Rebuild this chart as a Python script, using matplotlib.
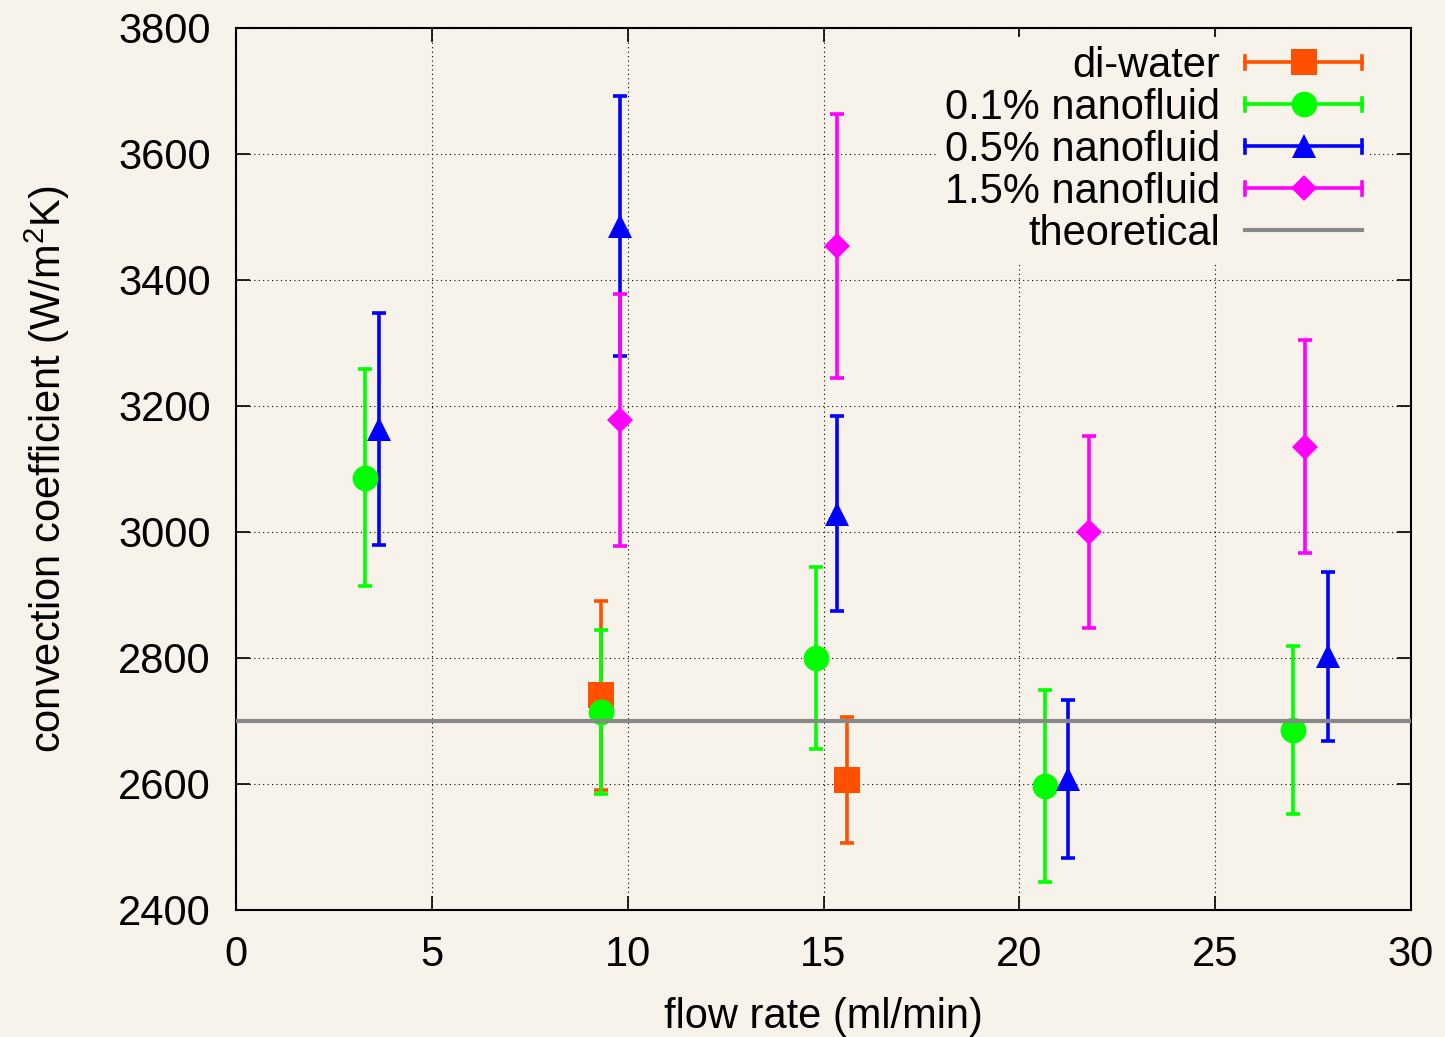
import matplotlib
matplotlib.use("Agg")
import matplotlib.pyplot as plt
from matplotlib.lines import Line2D
from matplotlib.legend_handler import HandlerBase

plt.rcParams['font.family'] = ['Liberation Sans', 'DejaVu Sans']
plt.rcParams['mathtext.fontset'] = 'custom'
plt.rcParams['mathtext.rm'] = 'Liberation Sans'
plt.rcParams['mathtext.it'] = 'Liberation Sans:italic'

# ---- data ----
water_x = [9.32, 15.6]
water_y = [2741, 2606]
water_e = [150, 100]

nf01_x = [3.29, 9.32, 14.81, 20.65, 26.98]
nf01_y = [3086, 2714, 2800, 2597, 2686]
nf01_e = [172, 130, 145, 152, 133]

nf05_x = [3.65, 9.80, 15.34, 21.24, 27.88]
nf05_y = [3163, 3486, 3029, 2608, 2803]
nf05_e = [184, 206, 155, 126, 134]

nf15_x = [9.80, 15.34, 21.78, 27.29]
nf15_y = [3178, 3454, 3000, 3135]
nf15_e = [200, 210, 153, 169]

theoretical = 2700

labels = ['di-water', '0.1% nanofluid', '0.5% nanofluid', '1.5% nanofluid', 'theoretical']
xticks = [0, 5, 10, 15, 20, 25, 30]
yticks = [2400, 2600, 2800, 3000, 3200, 3400, 3600, 3800]

BG = '#f7f3eb'
FS = 30
series = [
    (water_x, water_y, water_e, '#ff5000', 's', 19),
    (nf01_x, nf01_y, nf01_e, '#00ff00', 'o', 18.5),
    (nf05_x, nf05_y, nf05_e, '#0000ff', '^', 17),
    (nf15_x, nf15_y, nf15_e, '#ff00ff', 'D', 13),
]
LW = 2.6
CAP = 4.7


class HErrHandler(HandlerBase):
    def create_artists(self, legend, orig_handle, xdescent, ydescent,
                       width, height, fontsize, trans):
        c = orig_handle.get_color()
        y = height / 2 - ydescent
        x0 = -xdescent
        x1 = width - xdescent
        ch = CAP
        arts = [
            Line2D([x0, x1], [y, y], color=c, lw=LW),
            Line2D([x0, x0], [y - ch, y + ch], color=c, lw=LW),
            Line2D([x1, x1], [y - ch, y + ch], color=c, lw=LW),
            Line2D([(x0 + x1) / 2], [y], color=c, marker=orig_handle.get_marker(),
                   markersize=orig_handle.get_markersize(), linestyle='none',
                   markeredgewidth=0),
        ]
        for a in arts:
            a.set_transform(trans)
        return arts


fig = plt.figure(figsize=(14.45, 10.37), dpi=100, facecolor=BG)
ax = fig.add_axes([0.1633, 0.1225, 0.9765 - 0.1633, 0.973 - 0.1225])
ax.set_facecolor(BG)

handles = []
hmap = {}
for (xs, ys, es, col, mk, ms), lab in zip(series, labels[:4]):
    cont = ax.errorbar(xs, ys, yerr=es, color=col, marker=mk, markersize=ms,
                       linestyle='none', elinewidth=LW, capsize=CAP, capthick=LW,
                       zorder=3)
    cont[0].set_markeredgewidth(0)
    for cl in cont[1]:
        cl.set_markeredgewidth(LW)
    h = Line2D([], [], color=col, marker=mk, markersize=ms, linestyle='none')
    handles.append(h)
    hmap[h] = HErrHandler()

ax.axhline(theoretical, color='#888888', lw=3, zorder=4)
handles.append(Line2D([], [], color='#888888', lw=3))

ax.set_xlim(0, 30)
ax.set_ylim(2400, 3800)
ax.set_xticks(xticks)
ax.set_yticks(yticks)
ax.tick_params(direction='in', length=10, width=1.2, labelsize=FS, pad=18,
               top=True, right=True)
for s in ax.spines.values():
    s.set_linewidth(1.5)
ax.grid(True, color='black', linestyle=(0, (1, 3)), lw=0.8)
ax.set_axisbelow(True)

ax.set_xlabel('flow rate (ml/min)', fontsize=FS, labelpad=16)
ax.set_ylabel('convection coefficient (W/m$^2$K)', fontsize=FS, labelpad=33)

leg = ax.legend(handles, labels, handler_map=hmap, loc='upper right',
                bbox_to_anchor=(0.983, 1.013), fontsize=FS, markerfirst=False,
                handlelength=2.8, handletextpad=0.6, labelspacing=0.05,
                frameon=True, facecolor=BG, edgecolor='none', framealpha=1,
                borderpad=0.2, fancybox=False)
for t in leg.get_texts():
    t.set_ha('right')
leg._legend_box.align = 'right'
leg.set_zorder(10)

fig.savefig('out.png', dpi=100, facecolor=BG)
